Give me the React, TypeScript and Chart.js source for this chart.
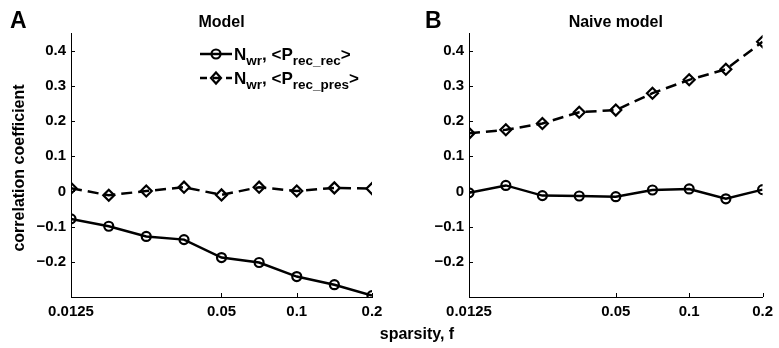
import React, { useEffect, useRef } from 'react';
import { Chart, registerables } from 'chart.js';

Chart.register(...registerables);

// ---- data ----
const sparsity = [0.0125, 0.0177, 0.025, 0.0354, 0.05, 0.0707, 0.1, 0.1414, 0.2];
const modelRecRec = [-0.078, -0.099, -0.128, -0.137, -0.188, -0.202, -0.242, -0.265, -0.296];
const modelRecPres = [0.009, -0.011, 0.001, 0.012, -0.010, 0.012, 0.001, 0.010, 0.008];
const naiveRecRec = [-0.004, 0.017, -0.012, -0.013, -0.015, 0.004, 0.007, -0.021, 0.005];
const naiveRecPres = [0.165, 0.175, 0.193, 0.225, 0.231, 0.279, 0.317, 0.347, 0.425];
const xTicks = [0.0125, 0.05, 0.1, 0.2];
const yTicks = [-0.2, -0.1, 0, 0.1, 0.2, 0.3, 0.4];
const xMin = 0.0125;
const xMax = 0.2;
const yMin = -0.3;
const yMax = 0.45;

const FONT = "'Liberation Sans', Arial, Helvetica, sans-serif";

function fmtY(v: number): string {
  if (Math.abs(v) < 1e-9) return '0';
  const s = Math.abs(v).toFixed(1);
  return v < 0 ? '\u2212' + s : s;
}

function drawMarker(ctx: CanvasRenderingContext2D, style: string, x: number, y: number) {
  ctx.save();
  ctx.setLineDash([]);
  ctx.lineWidth = 2.2;
  ctx.strokeStyle = '#000';
  ctx.beginPath();
  if (style === 'circle') {
    ctx.arc(x, y, 4.5, 0, Math.PI * 2);
  } else {
    ctx.moveTo(x, y - 5.5);
    ctx.lineTo(x + 5, y);
    ctx.lineTo(x, y + 5.5);
    ctx.lineTo(x - 5, y);
    ctx.closePath();
  }
  ctx.stroke();
  ctx.restore();
}

function drawRich(ctx: CanvasRenderingContext2D, x: number, y: number, parts: [string, boolean][]) {
  let cx = x;
  ctx.textBaseline = 'alphabetic';
  ctx.textAlign = 'left';
  for (const [t, sub] of parts) {
    ctx.font = sub ? `bold 13.5px ${FONT}` : `bold 17px ${FONT}`;
    ctx.fillText(t, cx, sub ? y + 5 : y);
    cx += ctx.measureText(t).width;
  }
}

type PanelProps = {
  left: number;
  width: number;
  yAxisWidth: number;
  rightPad: number;
  title: string;
  letter: string;
  letterX: number;
  solid: number[];
  dashed: number[];
  showLegend: boolean;
  showYLabel: boolean;
};

function Panel(p: PanelProps) {
  const ref = useRef<HTMLCanvasElement>(null);
  useEffect(() => {
    const deco = {
      id: 'deco',
      afterDraw(chart: any) {
        const ctx: CanvasRenderingContext2D = chart.ctx;
        const area = chart.chartArea;
        const xs = chart.scales.x;
        const ys = chart.scales.y;
        ctx.save();
        // inward ticks
        ctx.strokeStyle = '#000';
        ctx.lineWidth = 1;
        ctx.beginPath();
        ys.ticks.forEach((t: any) => {
          const py = Math.round(ys.getPixelForValue(t.value)) + 0.5;
          ctx.moveTo(area.left, py);
          ctx.lineTo(area.left + 4, py);
        });
        xs.ticks.forEach((t: any) => {
          const px = Math.round(xs.getPixelForValue(t.value)) + 0.5;
          ctx.moveTo(px, area.bottom);
          ctx.lineTo(px, area.bottom - 4);
        });
        ctx.stroke();
        ctx.fillStyle = '#000';
        // title
        ctx.font = `bold 16px ${FONT}`;
        ctx.textAlign = 'center';
        ctx.textBaseline = 'middle';
        ctx.fillText(p.title, (area.left + area.right) / 2, 23);
        // letter
        ctx.font = `bold 23px ${FONT}`;
        ctx.textAlign = 'left';
        ctx.textBaseline = 'alphabetic';
        ctx.fillText(p.letter, p.letterX, 28);
        // y label
        if (p.showYLabel) {
          ctx.save();
          ctx.translate(20, 168);
          ctx.rotate(-Math.PI / 2);
          ctx.font = `bold 16px ${FONT}`;
          ctx.textAlign = 'center';
          ctx.textBaseline = 'middle';
          ctx.fillText('correlation coefficient', 0, 0);
          ctx.restore();
        }
        // legend
        if (p.showLegend) {
          const rows: { y: number; dash: number[]; marker: string; parts: [string, boolean][] }[] = [
            { y: 54, dash: [], marker: 'circle', parts: [['N', false], ['wr', true], [', <P', false], ['rec_rec', true], ['>', false]] },
            { y: 78, dash: [7, 6], marker: 'diamond', parts: [['N', false], ['wr', true], [', <P', false], ['rec_pres', true], ['>', false]] },
          ];
          rows.forEach((r) => {
            ctx.save();
            ctx.strokeStyle = '#000';
            ctx.lineWidth = 2.5;
            ctx.setLineDash(r.dash);
            ctx.beginPath();
            ctx.moveTo(200, r.y);
            ctx.lineTo(232, r.y);
            ctx.stroke();
            ctx.restore();
            drawMarker(ctx, r.marker, 216, r.y);
            ctx.fillStyle = '#000';
            drawRich(ctx, 234, r.y + 6, r.parts);
          });
        }
        ctx.restore();
      },
    };

    const tickFont = { family: FONT, size: 15, weight: 'bold' as const };
    const chart = new Chart(ref.current!, {
      type: 'line',
      data: {
        datasets: [
          {
            data: sparsity.map((x, i) => ({ x, y: p.solid[i] })),
            borderColor: '#000',
            borderWidth: 2.5,
            pointStyle: 'circle',
            pointRadius: 4.5,
            pointBorderWidth: 2.2,
            pointBackgroundColor: 'rgba(0,0,0,0)',
            pointBorderColor: '#000',
            fill: false,
            tension: 0,
          },
          {
            data: sparsity.map((x, i) => ({ x, y: p.dashed[i] })),
            borderColor: '#000',
            borderWidth: 2.5,
            borderDash: [11, 6],
            pointStyle: 'rectRot',
            pointRadius: 5.5,
            pointBorderWidth: 2.2,
            pointBackgroundColor: 'rgba(0,0,0,0)',
            pointBorderColor: '#000',
            fill: false,
            tension: 0,
          },
        ],
      },
      options: {
        responsive: false,
        animation: false,
        devicePixelRatio: 1,
        layout: { padding: { left: 0, right: p.rightPad, top: 33, bottom: 0 } },
        plugins: { legend: { display: false }, tooltip: { enabled: false }, title: { display: false } },
        scales: {
          x: {
            type: 'logarithmic',
            min: xMin,
            max: xMax,
            afterBuildTicks: (s: any) => {
              s.ticks = xTicks.map((v) => ({ value: v }));
            },
            afterFit: (s: any) => {
              s.height = 51;
            },
            grid: { display: false, drawTicks: false },
            border: { display: true, color: '#000', width: 1 },
            ticks: {
              callback: (v: any) => String(v),
              autoSkip: false,
              maxRotation: 0,
              padding: 6,
              color: '#000',
              font: tickFont,
            },
          },
          y: {
            type: 'linear',
            min: yMin,
            max: yMax,
            afterBuildTicks: (s: any) => {
              s.ticks = yTicks.map((v) => ({ value: v }));
            },
            afterFit: (s: any) => {
              s.width = p.yAxisWidth;
            },
            grid: { display: false, drawTicks: false },
            border: { display: true, color: '#000', width: 1 },
            ticks: {
              callback: (v: any) => fmtY(Number(v)),
              padding: 5,
              color: '#000',
              font: tickFont,
            },
          },
        },
      },
      plugins: [deco],
    } as any);
    return () => chart.destroy();
  }, []);
  return (
    <canvas
      ref={ref}
      width={p.width}
      height={348}
      style={{ position: 'absolute', left: p.left, top: 0, width: p.width, height: 348 }}
    />
  );
}

export default function App() {
  return (
    <div style={{ position: 'absolute', left: 0, top: 0, width: 779, height: 348, background: '#fff', overflow: 'hidden' }}>
      <Panel
        left={0}
        width={390}
        yAxisWidth={71}
        rightPad={18}
        title="Model"
        letter="A"
        letterX={10}
        solid={modelRecRec}
        dashed={modelRecPres}
        showLegend={true}
        showYLabel={true}
      />
      <Panel
        left={390}
        width={389}
        yAxisWidth={79}
        rightPad={12}
        title="Naive model"
        letter="B"
        letterX={35}
        solid={naiveRecRec}
        dashed={naiveRecPres}
        showLegend={false}
        showYLabel={false}
      />
      <div
        style={{
          position: 'absolute',
          left: 317,
          width: 200,
          top: 326,
          textAlign: 'center',
          fontFamily: FONT,
          fontWeight: 'bold',
          fontSize: 16,
          lineHeight: '16px',
          color: '#000',
        }}
      >
        sparsity, f
      </div>
    </div>
  );
}
